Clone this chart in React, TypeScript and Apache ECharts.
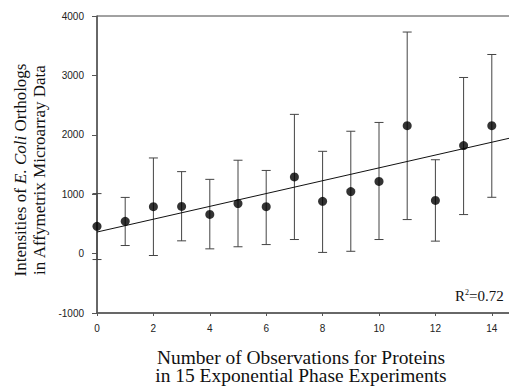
import React, { useEffect, useRef } from "react";
import * as echarts from "echarts";

const xValues = [0, 1, 2, 3, 4, 5, 6, 7, 8, 9, 10, 11, 12, 13, 14];
const meanValues = [459, 543, 790, 795, 660, 842, 790, 1290, 880, 1045, 1215, 2153, 896, 1818, 2153];
const upperValues = [1010, 946, 1610, 1380, 1250, 1572, 1400, 2344, 1722, 2060, 2208, 3730, 1580, 2965, 3352];
const lowerValues = [-100, 136, -32, 215, 80, 115, 152, 237, 20, 39, 237, 573, 210, 657, 948];
const fitX = [0, 15];
const fitY = [363, 1983];
const xMin = 0;
const xMax = 15;
const yTitleLine1 = "{a|Intensities of }{i|E. Coli}{a| Orthologs}";
const yTitleLine2 = "in Affymetrix Microarray Data";
const xTitleLine1 = "Number of Observations for Proteins";
const xTitleLine2 = "in 15 Exponential Phase Experiments";
const r2Label = "{a|R}{s|2}{a|=0.72}";

const SERIF = "'Liberation Serif', 'Times New Roman', serif";
const SANS = "'Liberation Sans', Arial, sans-serif";

export default function App() {
  const ref = useRef<HTMLDivElement>(null);
  useEffect(() => {
    if (!ref.current) return;
    const prevOverflow = document.body.style.overflow;
    document.body.style.overflow = "hidden";
    const chart = echarts.init(ref.current, undefined, { renderer: "svg" });
    const errData = xValues.map((x, i) => [x, lowerValues[i], upperValues[i]]);
    const fmt = (v: number) => String(v);
    const option: any = {
      animation: false,
      grid: { left: 97, top: 16, right: 0, bottom: 73, show: true, borderColor: "#444", borderWidth: 1, backgroundColor: "transparent" },
      xAxis: {
        type: "value",
        position: "bottom",
        min: xMin,
        max: xMax,
        interval: 2,
        splitLine: { show: false },
        axisLine: { show: true, onZero: false, lineStyle: { color: "#555", width: 1.5 } },
        axisTick: { show: true, length: 3, inside: false, lineStyle: { color: "#555" } },
        axisLabel: { color: "#222", fontSize: 10, fontFamily: SANS, margin: 10, showMaxLabel: false, formatter: fmt },
      },
      yAxis: {
        type: "value",
        min: -1000,
        max: 4000,
        interval: 1000,
        splitLine: { show: false },
        axisLine: { show: true, onZero: false, lineStyle: { color: "#555", width: 1.5 } },
        axisTick: { show: true, length: 5, lineStyle: { color: "#555" } },
        axisLabel: { color: "#222", fontSize: 10, fontFamily: SANS, margin: 13, formatter: fmt },
      },
      series: [
        {
          type: "custom",
          data: errData,
          z: 1,
          renderItem: (params: any, api: any) => {
            const x = api.value(0);
            const lo = api.coord([x, api.value(1)]);
            const hi = api.coord([x, api.value(2)]);
            const half = 4.5;
            const style = { stroke: "#444", lineWidth: 1 };
            return {
              type: "group",
              children: [
                { type: "line", shape: { x1: lo[0], y1: lo[1], x2: hi[0], y2: hi[1] }, style },
                { type: "line", shape: { x1: lo[0] - half, y1: lo[1], x2: lo[0] + half, y2: lo[1] }, style },
                { type: "line", shape: { x1: hi[0] - half, y1: hi[1], x2: hi[0] + half, y2: hi[1] }, style },
              ],
            };
          },
        },
        {
          type: "line",
          data: fitX.map((x, i) => [x, fitY[i]]),
          showSymbol: false,
          symbol: "none",
          clip: true,
          lineStyle: { color: "#111", width: 1 },
          z: 2,
        },
        {
          type: "scatter",
          data: xValues.map((x, i) => [x, meanValues[i]]),
          symbol: "circle",
          symbolSize: 9,
          itemStyle: { color: "#000" },
          z: 3,
        },
      ],
      graphic: [
        {
          type: "text",
          x: 20,
          y: 170,
          rotation: Math.PI / 2,
          style: {
            text: yTitleLine1,
            textAlign: "center",
            textVerticalAlign: "middle",
            rich: {
              a: { fontFamily: SERIF, fontSize: 17, fill: "#111" },
              i: { fontFamily: SERIF, fontSize: 17, fontStyle: "italic", fill: "#111" },
            },
          },
        },
        {
          type: "text",
          x: 39,
          y: 170,
          rotation: Math.PI / 2,
          style: {
            text: yTitleLine2,
            textAlign: "center",
            textVerticalAlign: "middle",
            fontFamily: SERIF,
            fontSize: 17,
            fill: "#111",
          },
        },
        {
          type: "text",
          x: 301,
          y: 358,
          scaleX: 1.08,
          style: { text: xTitleLine1, textAlign: "center", textVerticalAlign: "middle", fontFamily: SERIF, fontSize: 18, fill: "#111" },
        },
        {
          type: "text",
          x: 301,
          y: 376,
          scaleX: 1.08,
          style: { text: xTitleLine2, textAlign: "center", textVerticalAlign: "middle", fontFamily: SERIF, fontSize: 18, fill: "#111" },
        },
        {
          type: "text",
          x: 455,
          y: 296,
          style: {
            text: r2Label,
            textAlign: "left",
            textVerticalAlign: "middle",
            rich: {
              a: { fontFamily: SERIF, fontSize: 15, fill: "#111" },
              s: { fontFamily: SERIF, fontSize: 8, fill: "#111", verticalAlign: "top", padding: [0, 0, 8, 0] },
            },
          },
        },
      ],
    };
    chart.setOption(option);
    return () => {
      chart.dispose();
      document.body.style.overflow = prevOverflow;
    };
  }, []);
  return <div ref={ref} style={{ position: "absolute", left: 0, top: 0, width: 520, height: 386 }} />;
}
